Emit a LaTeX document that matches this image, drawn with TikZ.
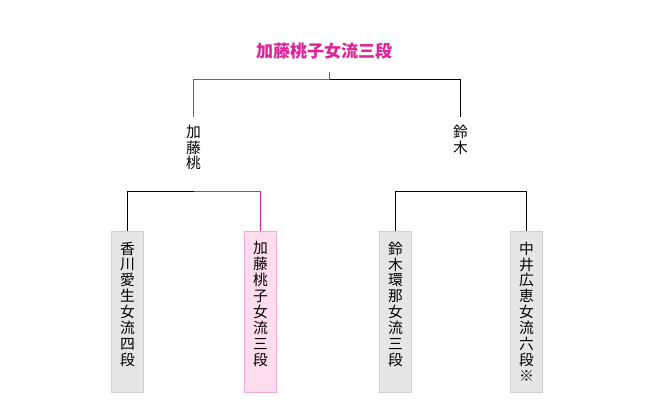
\documentclass[tikz,border=0pt]{standalone}
\usepackage{fontspec}
\newfontfamily\jp{Noto Sans CJK JP}
\definecolor{mag}{RGB}{221,34,153}
\definecolor{pinkfill}{RGB}{255,221,238}
\definecolor{pinkline}{RGB}{240,170,210}
\definecolor{grayfill}{RGB}{230,230,230}
\definecolor{grayline}{RGB}{208,208,208}
\tikzset{
  vtext/.style={font=\jp\fontsize{14.8}{15.9}\selectfont, align=center, inner xsep=0pt, inner ysep=0pt, anchor=north},
  semilbl/.style={font=\jp\fontsize{14.8}{15.6}\selectfont, align=center, inner xsep=0pt, inner ysep=8pt, anchor=north},
  graybox/.style={draw=grayline, fill=grayfill, line width=1pt, minimum width=32pt, minimum height=161pt, inner sep=0pt, anchor=north},
  pinkbox/.style={draw=pinkline, fill=pinkfill, line width=1pt, minimum width=32pt, minimum height=161pt, inner sep=0pt, anchor=north},
  link/.style={line width=1pt, black},
  winlink/.style={line width=1.1pt, mag},
}
\begin{document}
\begin{tikzpicture}[x=1pt,y=-1pt]
\useasboundingbox (0,0) rectangle (660,410);
% title
\node[font=\jp\bfseries\fontsize{17}{18}\selectfont, text=mag, inner sep=0pt] (champ) at (324,51) {加藤桃子女流三段};
\coordinate (ctop) at (329.5,72);
\coordinate (cmid) at (329.5,79.5);
% semifinal labels
\node[semilbl] (s1) at (193.5,117) {加\\藤\\桃};
\node[semilbl] (s2) at (460.5,117) {鈴\\木};
% boxes
\node[graybox] (b1) at (127.5,230.5) {};
\node[pinkbox] (b2) at (260.5,230.5) {};
\node[graybox] (b3) at (395.5,230.5) {};
\node[graybox] (b4) at (526.5,230.5) {};
% box texts
\node[vtext] (t1) at ([yshift=-11pt]b1.north) {香\\川\\愛\\生\\女\\流\\四\\段};
\node[vtext] (t2) at ([yshift=-11pt]b2.north) {加\\藤\\桃\\子\\女\\流\\三\\段};
\node[vtext] (t3) at ([yshift=-11pt]b3.north) {鈴\\木\\環\\那\\女\\流\\三\\段};
\node[vtext] (t4) at ([yshift=-11pt]b4.north) {中\\井\\広\\恵\\女\\流\\六\\段\\※};
% bracket junctions
\coordinate (k1) at (193.5,191.5);
\coordinate (k2) at (460.5,191.5);
% top bracket
\draw[winlink] (ctop) -- (cmid);
\draw[winlink] (cmid) -| (s1.north);
\draw[link] (cmid) -| (s2.north);
% left bracket
\draw[link] (b1.north) |- (k1);
\draw[winlink] (k1) -| (b2.north);
% right bracket
\draw[link] (b3.north) |- (k2) -| (b4.north);
\end{tikzpicture}
\end{document}
